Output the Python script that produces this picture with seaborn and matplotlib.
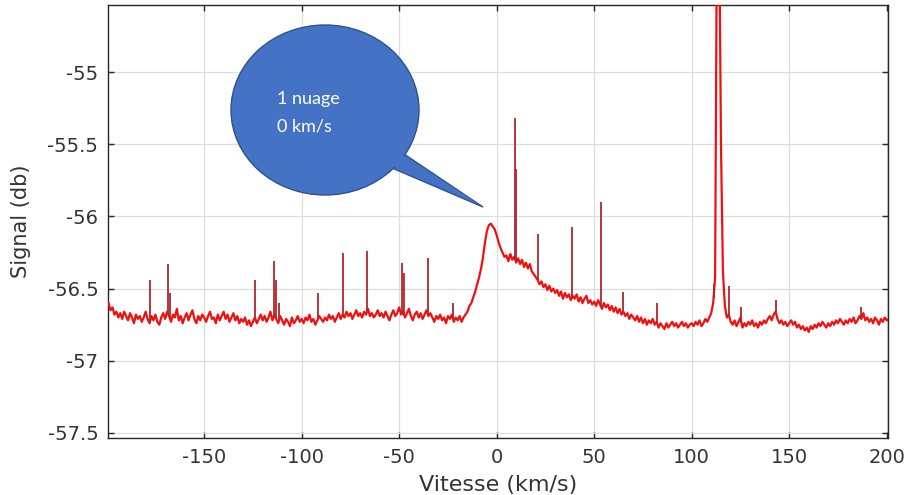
import numpy as np
import pandas as pd
import matplotlib
matplotlib.use("Agg")
import matplotlib.pyplot as plt
from matplotlib.patches import Ellipse, Polygon
import seaborn as sns

# ---------------- data ----------------
velocity = np.arange(-199, 202)  # km/s, 1 km/s step

signal = [
    -56.60, -56.65, -56.63, -56.68, -56.66, -56.70, -56.67, -56.71, -56.66, -56.69,
    -56.72, -56.67, -56.70, -56.74, -56.68, -56.71, -56.69, -56.73, -56.70, -56.66,
    -56.71, -56.74, -56.69, -56.72, -56.68, -56.73, -56.75, -56.70, -56.67, -56.71,
    -56.66, -56.69, -56.73, -56.68, -56.70, -56.64, -56.72, -56.69, -56.74, -56.70,
    -56.67, -56.72, -56.68, -56.65, -56.71, -56.74, -56.69, -56.72, -56.68, -56.70,
    -56.73, -56.69, -56.66, -56.71, -56.70, -56.74, -56.68, -56.72, -56.69, -56.66,
    -56.71, -56.68, -56.73, -56.70, -56.67, -56.72, -56.69, -56.74, -56.71, -56.73,
    -56.70, -56.75, -56.72, -56.76, -56.73, -56.70, -56.74, -56.71, -56.68, -56.72,
    -56.69, -56.73, -56.70, -56.66, -56.72, -56.68, -56.71, -56.74, -56.69, -56.72,
    -56.75, -56.71, -56.73, -56.76, -56.70, -56.74, -56.72, -56.69, -56.73, -56.71,
    -56.74, -56.70, -56.72, -56.68, -56.73, -56.71, -56.75, -56.72, -56.69, -56.71,
    -56.73, -56.70, -56.72, -56.68, -56.71, -56.69, -56.73, -56.70, -56.67, -56.71,
    -56.68, -56.70, -56.66, -56.69, -56.67, -56.71, -56.68, -56.65, -56.69, -56.67,
    -56.70, -56.66, -56.68, -56.64, -56.69, -56.67, -56.70, -56.68, -56.65, -56.69,
    -56.67, -56.70, -56.66, -56.69, -56.72, -56.68, -56.65, -56.69, -56.67, -56.63,
    -56.68, -56.66, -56.70, -56.67, -56.64, -56.69, -56.72, -56.68, -56.66, -56.70,
    -56.67, -56.71, -56.68, -56.65, -56.69, -56.67, -56.70, -56.73, -56.69, -56.71,
    -56.68, -56.72, -56.70, -56.74, -56.69, -56.71, -56.68, -56.73, -56.70, -56.72,
    -56.69, -56.73, -56.70, -56.68, -56.66, -56.62, -56.60, -56.56, -56.52, -56.47,
    -56.42, -56.36, -56.28, -56.18, -56.10, -56.06, -56.05, -56.07, -56.09, -56.13,
    -56.18, -56.22, -56.25, -56.28, -56.27, -56.31, -56.26, -56.30, -56.28, -56.32,
    -56.29, -56.33, -56.30, -56.35, -56.32, -56.36, -56.33, -56.38, -56.40, -56.42,
    -56.44, -56.47, -56.45, -56.49, -56.47, -56.51, -56.48, -56.52, -56.50, -56.53,
    -56.51, -56.55, -56.52, -56.57, -56.53, -56.56, -56.54, -56.58, -56.55, -56.57,
    -56.54, -56.59, -56.56, -56.60, -56.57, -56.55, -56.60, -56.58, -56.61, -56.59,
    -56.62, -56.58, -56.61, -56.64, -56.60, -56.63, -56.61, -56.65, -56.62, -56.66,
    -56.63, -56.67, -56.64, -56.68, -56.66, -56.69, -56.67, -56.71, -56.68, -56.70,
    -56.72, -56.69, -56.73, -56.70, -56.74, -56.71, -56.75, -56.72, -56.74, -56.71,
    -56.75, -56.73, -56.77, -56.74, -56.76, -56.78, -56.74, -56.77, -56.75, -56.73,
    -56.76, -56.74, -56.77, -56.75, -56.73, -56.76, -56.74, -56.77, -56.75, -56.74,
    -56.76, -56.73, -56.75, -56.72, -56.76, -56.74, -56.71, -56.73, -56.70, -56.67,
    -56.60, -56.42, -53.80, -53.80, -55.50, -56.38, -56.62, -56.70, -56.68, -56.73,
    -56.75, -56.72, -56.76, -56.73, -56.70, -56.77, -56.74, -56.76, -56.73, -56.75,
    -56.72, -56.76, -56.74, -56.77, -56.73, -56.75, -56.72, -56.74, -56.71, -56.69,
    -56.72, -56.68, -56.66, -56.71, -56.74, -56.72, -56.75, -56.73, -56.76, -56.74,
    -56.72, -56.75, -56.73, -56.77, -56.75, -56.78, -56.76, -56.79, -56.77, -56.80,
    -56.76, -56.78, -56.75, -56.77, -56.74, -56.76, -56.73, -56.75, -56.77, -56.74,
    -56.76, -56.73, -56.75, -56.72, -56.74, -56.71, -56.73, -56.75, -56.72, -56.74,
    -56.71, -56.73, -56.70, -56.74, -56.72, -56.69, -56.71, -56.67, -56.72, -56.70,
    -56.73, -56.71, -56.74, -56.70, -56.72, -56.75, -56.71, -56.73, -56.70, -56.72,
    -56.71,
]

# narrow interference spikes: velocity and peak level
spike_velocity = [-178.0, -168.4, -167.6, -124.0, -114.3, -113.2, -111.5, -91.5,
                  -79.0, -66.3, -48.5, -47.6, -35.2, -22.4, 9.2, 9.7, 21.0,
                  38.8, 53.6, 64.8, 82.0, 111.2, 119.0, 125.5, 143.0, 187.0]
spike_peak = [-56.44, -56.33, -56.53, -56.44, -56.31, -56.44, -56.60, -56.53,
              -56.25, -56.24, -56.32, -56.39, -56.29, -56.60, -55.32, -55.67, -56.12,
              -56.07, -55.90, -56.52, -56.60, -56.47, -56.48, -56.63, -56.58, -56.63]

x_ticks = [-150, -100, -50, 0, 50, 100, 150, 200]
y_ticks = [-57.5, -57, -56.5, -56, -55.5, -55]
x_tick_labels = ["-150", "-100", "-50", "0", "50", "100", "150", "200"]
y_tick_labels = ["-57.5", "-57", "-56.5", "-56", "-55.5", "-55"]

callout_lines = ["1 nuage", "0 km/s"]

# ---------------- figure ----------------
sns.set_theme(style="ticks")
plt.rcParams["font.family"] = ["DejaVu Sans"]

W, H = 921, 495
fig = plt.figure(figsize=(W / 100, H / 100), dpi=100)
ax = fig.add_axes([108 / W, 1 - 438 / H, (888.3 - 108) / W, (438 - 5) / H])

df = pd.DataFrame({"Vitesse": velocity, "Signal": signal})
sns.lineplot(data=df, x="Vitesse", y="Signal", ax=ax, color="#f01010",
             linewidth=1.6, zorder=3)

base = np.interp(spike_velocity, velocity, signal)
ax.vlines(spike_velocity, base, spike_peak, color="#b0262a", linewidth=1.3, zorder=4)

ax.set_xlim(-199.3, 200.8)
ax.set_ylim(-57.535, -54.535)
ax.set_xticks(x_ticks)
ax.set_xticklabels(x_tick_labels)
ax.set_yticks(y_ticks)
ax.set_yticklabels(y_tick_labels)

ax.grid(True, color="#dddddd", linewidth=0.9)
ax.set_axisbelow(True)
ax.tick_params(direction="in", length=4, width=1.0, color="#262626",
               labelcolor="#333333", labelsize=14, top=True, right=True,
               labeltop=False, labelright=False, pad=7)
for sp in ax.spines.values():
    sp.set_color("#262626")
    sp.set_linewidth(1.0)

ax.set_xlabel("Vitesse (km/s)", fontsize=16, color="#333333", labelpad=6)
ax.set_ylabel("Signal (db)", fontsize=15, color="#333333", labelpad=12)

# ---------------- speech bubble ----------------
def fx(px):
    return px / W

def fy(py):
    return 1 - py / H

fill_c = "#4472C4"
edge_c = "#2F528F"
tail = [(fx(398), fy(150)), (fx(483), fy(207)), (fx(385), fy(165))]
fig.patches.append(Polygon(tail, closed=True, transform=fig.transFigure,
                           facecolor=fill_c, edgecolor=edge_c, linewidth=1.0, zorder=5))
fig.patches.append(Ellipse((fx(325), fy(110)), 188 / W, 170 / H,
                           transform=fig.transFigure, facecolor=fill_c,
                           edgecolor=edge_c, linewidth=1.0, zorder=6))
tail_in = [(fx(396), fy(151)), (fx(480), fy(205)), (fx(386), fy(163))]
fig.patches.append(Polygon(tail_in, closed=True, transform=fig.transFigure,
                           facecolor=fill_c, edgecolor="none", zorder=7))

fig.text(fx(277), fy(99), callout_lines[0], color="white", fontsize=13,
         family=["Lato", "DejaVu Sans"], ha="left", va="center", zorder=8)
fig.text(fx(277), fy(126), callout_lines[1], color="white", fontsize=13,
         family=["Lato", "DejaVu Sans"], ha="left", va="center", zorder=8)

fig.savefig("out.png", dpi=100)
